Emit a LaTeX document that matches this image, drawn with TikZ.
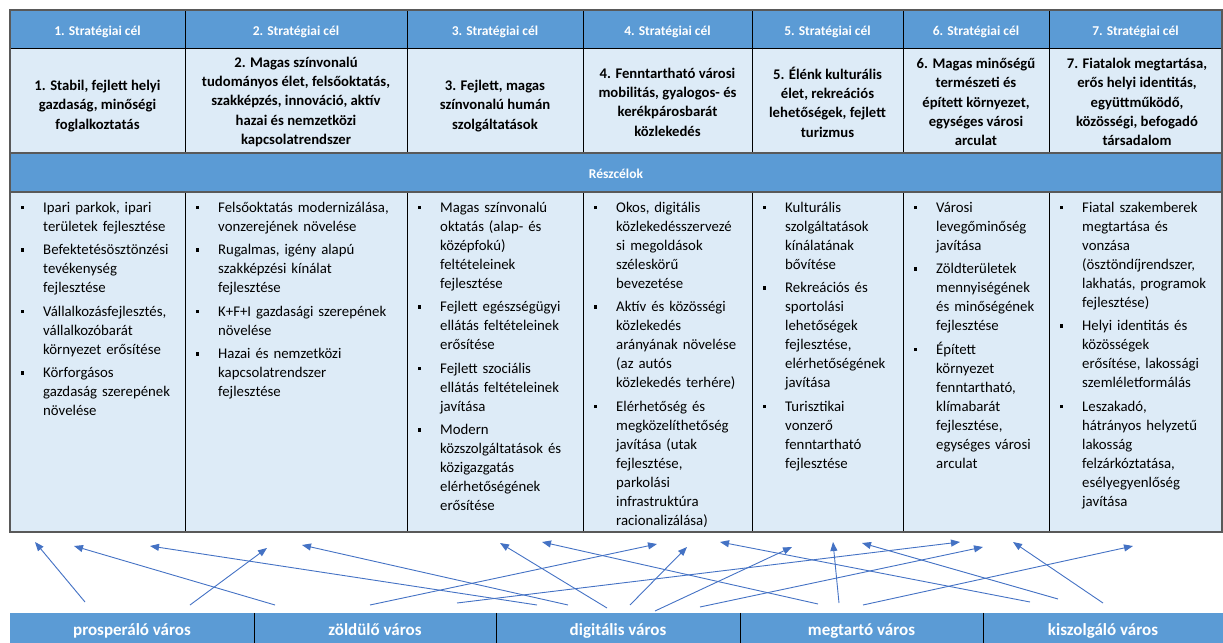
\documentclass[tikz,border=0pt]{standalone}
\usepackage{fontspec}
\setmainfont{Carlito}
\usetikzlibrary{arrows.meta}
\definecolor{headblue}{HTML}{5B9BD5}
\definecolor{cellblue}{HTML}{DDEBF7}
\definecolor{linkblue}{HTML}{4472C4}
\definecolor{rulegray}{HTML}{595959}
\newcommand\itm[1]{\par\noindent\llap{\raisebox{3bp}{\rule{3.6bp}{3.6bp}}\hspace{19bp}}#1\par\vspace{4.5bp}}
\tikzset{
	head/.style={text=white, inner sep=0pt, font=\fontsize{13.5bp}{15bp}\selectfont\bfseries},
	goal/.style={align=center, inner sep=0pt, font=\fontsize{14.7bp}{19.3bp}\selectfont\bfseries},
	sub/.style={anchor=north west, inner sep=0pt, align=left, text width=#1,
		font=\fontsize{14.8bp}{19bp}\selectfont},
	city/.style={fill=headblue, text=white, minimum height=36bp, inner sep=0pt,
		text height=12bp, text depth=4bp, font=\fontsize{17bp}{18bp}\selectfont\bfseries},
	link/.style={linkblue, line width=0.9bp, -{Triangle[length=9bp,width=7bp]}}
}

\begin{document}
\begin{tikzpicture}[x=1bp,y=-1bp]
\useasboundingbox (0,0) rectangle (1223,643);

% table
\fill[cellblue] (10,10) rectangle (1222,532);
\fill[headblue] (10,10) rectangle (1222,48);
\fill[headblue] (10,153) rectangle (1222,192);
\foreach \x in {185,407,583,752,903,1049}
	\draw[line width=0.8bp] (\x,10) -- (\x,153) (\x,192) -- (\x,532);
\draw[line width=0.8bp] (10,48) -- (1222,48);
\draw[rulegray, line width=1.3bp] (10,153) -- (1222,153) (10,192) -- (1222,192);
\draw[rulegray, line width=1.3bp] (10,10) rectangle (1222,532);

\node[head] (h1) at (97.5,32) {1. Stratégiai cél};
\node[head] (h2) at (296,32) {2. Stratégiai cél};
\node[head] (h3) at (495,32) {3. Stratégiai cél};
\node[head] (h4) at (667.5,32) {4. Stratégiai cél};
\node[head] (h5) at (827.5,32) {5. Stratégiai cél};
\node[head] (h6) at (976,32) {6. Stratégiai cél};
\node[head] (h7) at (1135.5,32) {7. Stratégiai cél};

\node[goal] (goal1) at (97.5,106) {1. Stabil, fejlett helyi\\gazdaság, minőségi\\foglalkoztatás};
\node[goal] (goal2) at (296,102) {2. Magas színvonalú\\tudományos élet, felsőoktatás,\\szakképzés, innováció, aktív\\hazai és nemzetközi\\kapcsolatrendszer};
\node[goal] (goal3) at (495,106) {3. Fejlett, magas\\színvonalú humán\\szolgáltatások};
\node[goal] (goal4) at (667.5,102) {4. Fenntartható városi\\mobilitás, gyalogos- és\\kerékpárosbarát\\közlekedés};
\node[goal] (goal5) at (827.5,102) {5. Élénk kulturális\\élet, rekreációs\\lehetőségek, fejlett\\turizmus};
\node[goal] (goal6) at (976,102) {6. Magas minőségű\\természeti és\\épített környezet,\\egységes városi\\arculat};
\node[goal] (goal7) at (1137,102) {7. Fiatalok megtartása,\\erős helyi identitás,\\együttműködő,\\közösségi, befogadó\\társadalom};

\node[head] (resz) at (616,174) {Részcélok};

\node[sub=170bp] (sub1) at (43,193) {
	\itm{Ipari parkok, ipari\\területek fejlesztése}
	\itm{Befektetésösztönzési\\tevékenység\\fejlesztése}
	\itm{Vállalkozásfejlesztés,\\vállalkozóbarát\\környezet erősítése}
	\itm{Körforgásos\\gazdaság szerepének\\növelése}};
\node[sub=210bp] (sub2) at (218,193) {
	\itm{Felsőoktatás modernizálása,\\vonzerejének növelése}
	\itm{Rugalmas, igény alapú\\szakképzési kínálat\\fejlesztése}
	\itm{K+F+I gazdasági szerepének\\növelése}
	\itm{Hazai és nemzetközi\\kapcsolatrendszer\\fejlesztése}};
\node[sub=165bp] (sub3) at (440,193) {
	\itm{Magas színvonalú\\oktatás (alap- és\\középfokú)\\feltételeinek\\fejlesztése}
	\itm{Fejlett egészségügyi\\ellátás feltételeinek\\erősítése}
	\itm{Fejlett szociális\\ellátás feltételeinek\\javítása}
	\itm{Modern\\közszolgáltatások és\\közigazgatás\\elérhetőségének\\erősítése}};
\node[sub=160bp] (sub4) at (616,193) {
	\itm{Okos, digitális\\közlekedésszervezé\\si megoldások\\széleskörű\\bevezetése}
	\itm{Aktív és közösségi\\közlekedés\\arányának növelése\\(az autós\\közlekedés terhére)}
	\itm{Elérhetőség és\\megközelíthetőség\\javítása (utak\\fejlesztése,\\parkolási\\infrastruktúra\\racionalizálása)}};
\node[sub=145bp] (sub5) at (785,193) {
	\itm{Kulturális\\szolgáltatások\\kínálatának\\bővítése}
	\itm{Rekreációs és\\sportolási\\lehetőségek\\fejlesztése,\\elérhetőségének\\javítása}
	\itm{Turisztikai\\vonzerő\\fenntartható\\fejlesztése}};
\node[sub=140bp] (sub6) at (936,193) {
	\itm{Városi\\levegőminőség\\javítása}
	\itm{Zöldterületek\\mennyiségének\\és minőségének\\fejlesztése}
	\itm{Épített\\környezet\\fenntartható,\\klímabarát\\fejlesztése,\\egységes városi\\arculat}};
\node[sub=140bp] (sub7) at (1082,193) {
	\itm{Fiatal szakemberek\\megtartása és\\vonzása\\(ösztöndíjrendszer,\\lakhatás, programok\\fejlesztése)}
	\itm{Helyi identitás és\\közösségek\\erősítése, lakossági\\szemléletformálás}
	\itm{Leszakadó,\\hátrányos helyzetű\\lakosság\\felzárkóztatása,\\esélyegyenlőség\\javítása}};

% city boxes
\node[city, minimum width=244bp] (pros) at (132,631) {prosperáló város};
\node[city, minimum width=242bp] (zold) at (375,631) {zöldülő város};
\node[city, minimum width=244bp] (digi) at (618,631) {digitális város};
\node[city, minimum width=243bp] (megt) at (861.5,631) {megtartó város};
\node[city, minimum width=240bp] (kisz) at (1103,631) {kiszolgáló város};
\draw[line width=0.8bp] (pros.north east) -- (pros.south east);
\draw[line width=0.8bp] (zold.north east) -- (zold.south east);
\draw[line width=0.8bp] (digi.north east) -- (digi.south east);
\draw[line width=0.8bp] (megt.north east) -- (megt.south east);

% arrow ends
\coordinate (pros1) at (85,602);   \coordinate (t1a) at (35,542);
\coordinate (pros2) at (190,605);  \coordinate (t2a) at (267,548);
\coordinate (zold1) at (275,605);  \coordinate (t1b) at (74,546);
\coordinate (zold2) at (370,605);  \coordinate (t4a) at (657,544);
\coordinate (zold3) at (457,603);  \coordinate (t6a) at (960,542);
\coordinate (digi1) at (537,605);  \coordinate (t1c) at (150,546);
\coordinate (digi2) at (568,605);  \coordinate (t2b) at (302,545);
\coordinate (digi3) at (607,608);  \coordinate (t3a) at (500,543);
\coordinate (digi4) at (630,605);  \coordinate (t4b) at (687,547);
\coordinate (digi5) at (655,611);  \coordinate (t5a) at (792,547);
\coordinate (digi6) at (700,607);  \coordinate (t6b) at (983,547);
\coordinate (megt1) at (818,604);  \coordinate (t3b) at (542,542);
\coordinate (megt2) at (839,603);  \coordinate (t5b) at (833,542);
\coordinate (megt3) at (863,605);  \coordinate (t7a) at (1133,546);
\coordinate (kisz1) at (1030,602); \coordinate (t4c) at (720,542);
\coordinate (kisz2) at (1058,599); \coordinate (t5c) at (862,543);
\coordinate (kisz3) at (1103,603); \coordinate (t6c) at (1013,542);

\draw[link] (pros1) -- (t1a);
\draw[link] (pros2) -- (t2a);
\draw[link] (zold1) -- (t1b);
\draw[link] (zold2) -- (t4a);
\draw[link] (zold3) -- (t6a);
\draw[link] (digi1) -- (t1c);
\draw[link] (digi2) -- (t2b);
\draw[link] (digi3) -- (t3a);
\draw[link] (digi4) -- (t4b);
\draw[link] (digi5) -- (t5a);
\draw[link] (digi6) -- (t6b);
\draw[link] (megt1) -- (t3b);
\draw[link] (megt2) -- (t5b);
\draw[link] (megt3) -- (t7a);
\draw[link] (kisz1) -- (t4c);
\draw[link] (kisz2) -- (t5c);
\draw[link] (kisz3) -- (t6c);

\end{tikzpicture}
\end{document}
